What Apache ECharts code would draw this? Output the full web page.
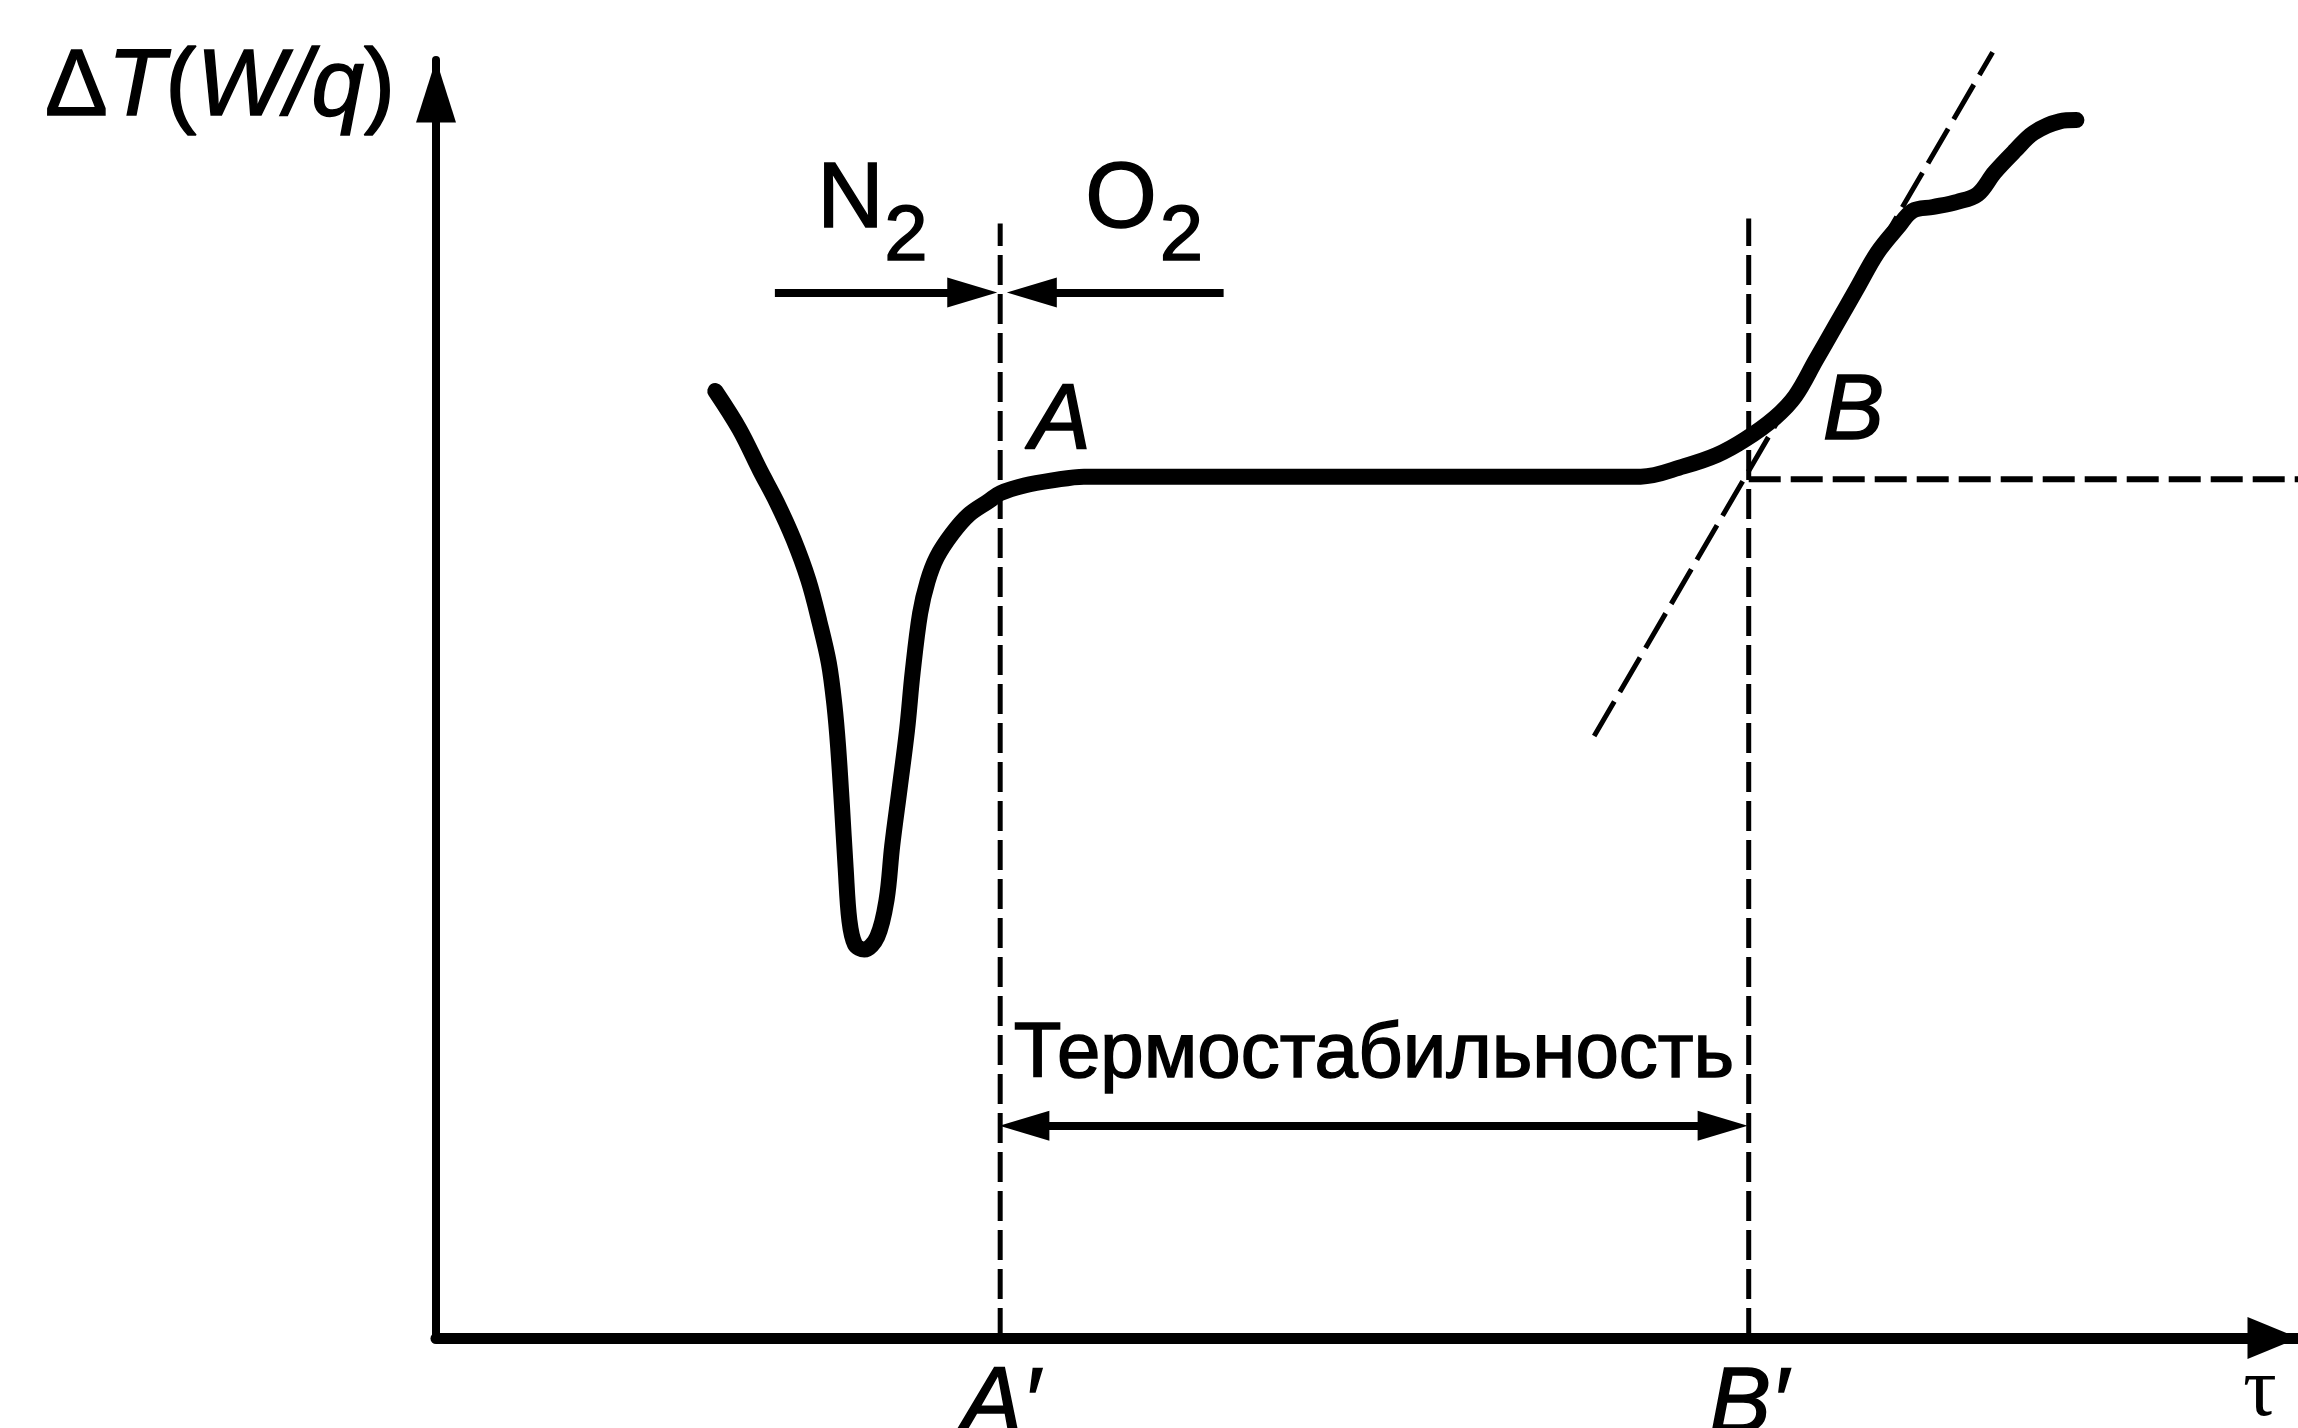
<!DOCTYPE html>
<html>
<head>
<meta charset="utf-8">
<script src="https://cdn.jsdelivr.net/npm/echarts@6/dist/echarts.min.js"></script>
<style>
  html, body { margin: 0; padding: 0; background: #fff; }
  #chart { width: 2298px; height: 1428px; }
</style>
</head>
<body>
<div id="chart"></div>
<script>
// кривая ДТА: время tau и сигнал dT (условные единицы, 0..100)
const curveTau = [15.0, 16.3, 17.4, 18.3, 19.2, 20.0, 20.6, 21.1, 21.4, 21.6, 21.8, 22.0, 22.2, 22.5, 23.0,
  23.7, 24.2, 24.5, 24.9, 25.3, 25.6, 26.0, 26.4, 26.9, 27.7, 28.6, 29.7, 30.3, 31.6, 33.1, 34.8,
  46.4, 64.7, 67.0, 68.8, 70.3, 71.9, 73.0, 74.1, 75.2, 76.3, 77.4, 78.5, 79.3, 80.4, 81.7, 82.8,
  83.7, 84.8, 85.8, 87.2, 88.1]
const curveDT = [74.1, 71.1, 67.9, 65.4, 62.5, 59.3, 56.0, 52.8, 49.5, 46.2, 41.7, 36.8, 32.7, 30.8, 30.4,
  31.4, 34.3, 38.5, 43.0, 47.6, 52.1, 56.7, 59.2, 61.1, 62.9, 64.4, 65.5, 66.1, 66.7, 67.1, 67.4,
  67.4, 67.4, 68.2, 69.1, 70.3, 72.0, 73.7, 76.5, 79.3, 82.1, 84.9, 86.9, 88.2, 88.5, 88.9, 89.5,
  91.2, 92.9, 94.3, 95.2, 95.3]

// точки A' и B' на оси времени
const tickTau = [30.3, 70.5]
const tickNames = ['A′', 'B′']
// верх вертикальных пунктиров
const guideTop = [87.2, 87.6]
// базовая линия (плато) и касательная
const plateauDT = 67.2
const tangentTau = [62.2, 83.6]
const tangentDT = [47.1, 100.6]

// стрелки смены газа N2 -> O2 и стрелка "термостабильность"
const gasDT = 81.8
const gasFromTau = [18.2, 42.3]
const gasToTau = [28.8, 32.0]
const spanDT = 16.6
const spanTau = [31.6, 69.1]

// подписи
const noteText = ['N', '2', 'O', '2', 'A', 'B', 'Термостабильность']
const noteTau = [20.5, 24.1, 34.9, 38.9, 31.9, 74.5, 50.4]
const noteDT = [88.9, 86.0, 88.9, 86.0, 71.5, 72.3, 22.1]

const sans = '"Liberation Sans", Arial, sans-serif'
const ink = '#000'

// стиль подписи: размер, выравнивание, курсив
function noteStyle(t) {
  const s = { color: ink, fontFamily: sans, textBorderColor: ink, textBorderWidth: 1.5, fontSize: 92, opacity: 1 }
  if (t === 'Термостабильность' || t === '2') s.fontSize = 78
  if (t === 'A' || t === 'B') s.fontStyle = 'italic'
  return s
}

function dashed(name, xs, ys, dash, width) {
  return {
    name: name,
    type: 'line',
    data: xs.map((x, i) => [x, ys[i]]),
    showSymbol: false,
    clip: false,
    silent: true,
    lineStyle: { color: ink, width: width, type: dash }
  }
}

const chart = echarts.init(document.getElementById('chart'))

const option = {
  animation: false,
  backgroundColor: '#fff',
  grid: { left: 436, right: 0, top: 60, bottom: 90, outerBoundsMode: 'none', containLabel: false },
  xAxis: {
    type: 'value',
    min: 0,
    max: 100,
    name: 'τ',
    nameLocation: 'end',
    nameGap: -38,
    nameTextStyle: {
      fontFamily: '"Liberation Serif", serif',
      fontSize: 84,
      color: ink,
      align: 'center',
      verticalAlign: 'top',
      padding: [13, 0, 0, 0]
    },
    axisLine: {
      lineStyle: { color: ink, width: 11 },
      symbol: ['none', 'triangle'],
      symbolSize: [42, 51],
      symbolOffset: [0, -25]
    },
    axisTick: { show: false },
    splitLine: { show: false },
    axisLabel: {
      customValues: tickTau,
      margin: 22,
      color: ink,
      fontSize: 92,
      fontStyle: 'italic',
      fontFamily: sans,
      textBorderColor: ink,
      textBorderWidth: 1.5,
      formatter: (v) => {
        let k = 0
        tickTau.forEach((t, i) => { if (Math.abs(t - v) < Math.abs(tickTau[k] - v)) k = i })
        return tickNames[k]
      }
    }
  },
  yAxis: {
    type: 'value',
    min: 0,
    max: 100,
    name: '{a|Δ}{b|T}{a|(}{b|W/q}{a|)}',
    nameLocation: 'end',
    nameGap: -29,
    nameTextStyle: {
      align: 'right',
      verticalAlign: 'middle',
      padding: [0, 41, 0, 0],
      rich: {
        a: { fontSize: 94, fontFamily: sans, color: ink, textBorderColor: ink, textBorderWidth: 1.5 },
        b: { fontSize: 94, fontFamily: sans, fontStyle: 'italic', color: ink, textBorderColor: ink, textBorderWidth: 1.5 }
      }
    },
    axisLine: {
      lineStyle: { color: ink, width: 8 },
      symbol: ['none', 'triangle'],
      symbolSize: [40, 63],
      symbolOffset: [0, -31]
    },
    axisTick: { show: false },
    axisLabel: { show: false },
    splitLine: { show: false }
  },
  series: [
    dashed('A′', [tickTau[0], tickTau[0]], [0, guideTop[0]], [30, 9], 5),
    dashed('B′', [tickTau[1], tickTau[1]], [0, guideTop[1]], [30, 9], 5),
    dashed('база', [tickTau[1], 100], [plateauDT, plateauDT], [32, 10], 6),
    dashed('касательная', tangentTau, tangentDT, [40, 11], 5),
    {
      name: 'ДТА',
      type: 'line',
      data: curveTau.map((x, i) => [x, curveDT[i]]),
      smooth: 0.35,
      showSymbol: false,
      silent: true,
      lineStyle: { color: ink, width: 16, cap: 'round', join: 'round' },
      markLine: {
        silent: true,
        symbolSize: [30, 50],
        label: { show: false },
        itemStyle: { color: ink },
        lineStyle: { color: ink, width: 8, type: 'solid' },
        data: [
          [{ coord: [gasFromTau[0], gasDT], symbol: 'none' }, { coord: [gasToTau[0], gasDT], symbol: 'triangle' }],
          [{ coord: [gasFromTau[1], gasDT], symbol: 'none' }, { coord: [gasToTau[1], gasDT], symbol: 'triangle' }],
          [{ coord: [spanTau[0], spanDT], symbol: 'triangle' }, { coord: [spanTau[1], spanDT], symbol: 'triangle' }]
        ]
      }
    },
    {
      name: 'подписи',
      type: 'scatter',
      silent: true,
      clip: false,
      symbolSize: 1,
      itemStyle: { color: 'rgba(0,0,0,0)', opacity: 1 },
      data: noteText.map((t, i) => ({
        value: [noteTau[i], noteDT[i]],
        label: {
          show: true,
          opacity: 1,
          position: [0, 0],
          align: t === 'Термостабильность' ? 'center' : 'left',
          verticalAlign: 'middle',
          formatter: '{t|' + t + '}',
          rich: { t: noteStyle(t) }
        }
      }))
    }
  ]
}

chart.setOption(option)
</script>
</body>
</html>
